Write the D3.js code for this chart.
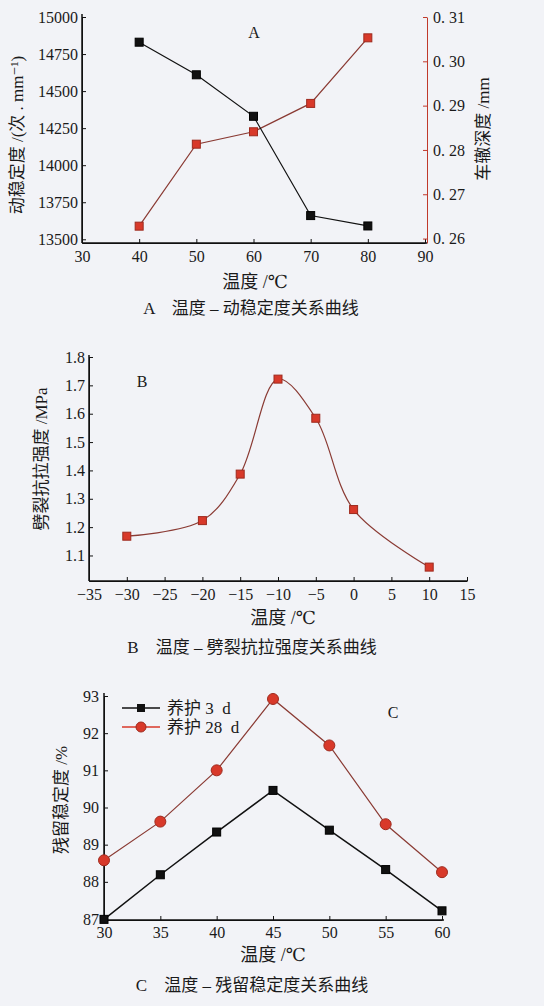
<!DOCTYPE html>
<html>
<head>
<meta charset="utf-8">
<script src="https://cdn.jsdelivr.net/npm/d3@7"></script>
<style>
  body { margin: 0; background: #f2f3f7; }
  svg { display: block; }
  .axis path, .axis line { stroke: #111; }
</style>
</head>
<body>
<svg width="544" height="1006"></svg>
<script>
// chart A: temperature vs dynamic stability / rut depth
var tempA = [40, 50, 60, 70, 80];
var stability = [14830, 14610, 14330, 13660, 13590];
var rutDepth = [0.2628, 0.2813, 0.2841, 0.2905, 0.3053];
var ticksAx = [30, 40, 50, 60, 70, 80, 90];
var ticksAl = [13500, 13750, 14000, 14250, 14500, 14750, 15000];
var ticksAr = [0.26, 0.27, 0.28, 0.29, 0.30, 0.31];

// chart B: temperature vs splitting tensile strength
var tempB = [-30, -20, -15, -10, -5, 0, 10];
var strength = [1.168, 1.223, 1.387, 1.722, 1.584, 1.262, 1.059];
var ticksBx = [-35, -30, -25, -20, -15, -10, -5, 0, 5, 10, 15];
var ticksBy = [1.1, 1.2, 1.3, 1.4, 1.5, 1.6, 1.7, 1.8];

// chart C: temperature vs residual stability
var tempC = [30, 35, 40, 45, 50, 55, 60];
var cure3 = [86.99, 88.19, 89.34, 90.46, 89.39, 88.33, 87.22];
var cure28 = [88.58, 89.62, 91.0, 92.92, 91.67, 89.55, 88.26];
var ticksCy = [87, 88, 89, 90, 91, 92, 93];
var seriesNames = ["养护 3  d", "养护 28  d"];

var svg = d3.select("svg");
var serif = "'Liberation Serif', 'DejaVu Serif', 'Noto Sans CJK SC', serif";
var red = "#d8392a", redDark = "#9e2a1e", redLine = "#8a3a33";

function fmtSpace(d) { return d3.format(".2f")(d).replace(".", ". "); }

function styleAxis(g) {
  g.attr("font-family", serif).attr("font-size", 16);
  g.selectAll("text").attr("fill", "#1a1a1a");
}

function label(x, y, txt, size, rot) {
  var t = svg.append("text")
    .attr("font-family", serif)
    .attr("font-size", size + "px")
    .attr("fill", "#1a1a1a")
    .attr("text-anchor", "middle")
    .text(txt);
  if (rot) t.attr("transform", "translate(" + x + "," + y + ") rotate(-90)");
  else t.attr("x", x).attr("y", y);
  return t;
}

function squares(g, data, color, stroke, size) {
  g.selectAll(null).data(data).enter().append("rect")
    .attr("x", d => d[0] - size / 2)
    .attr("y", d => d[1] - size / 2)
    .attr("width", size).attr("height", size)
    .attr("fill", color).attr("stroke", stroke).attr("stroke-width", 1);
}

// ---------- A ----------
var xA = d3.scaleLinear().domain([30, 90]).range([82, 425]);
var yAl = d3.scaleLinear().domain([13475, 15000]).range([243, 17]);
var yAr = d3.scaleLinear().domain([0.259, 0.31]).range([243, 17]);

svg.append("g").attr("class", "axis").attr("transform", "translate(0,243)")
  .call(d3.axisBottom(xA).tickValues(ticksAx).tickSizeInner(-4).tickSizeOuter(0).tickPadding(8))
  .call(styleAxis);
svg.append("g").attr("class", "axis").attr("transform", "translate(82,0)")
  .call(d3.axisLeft(yAl).tickValues(ticksAl).tickFormat(d3.format("d")).tickSizeInner(-4).tickSizeOuter(0).tickPadding(4))
  .call(styleAxis);
var rAx = svg.append("g").attr("class", "axis").attr("transform", "translate(427,0)")
  .call(d3.axisRight(yAr).tickValues(ticksAr).tickFormat(fmtSpace).tickSizeInner(-4).tickSizeOuter(0).tickPadding(6))
  .call(styleAxis);
rAx.selectAll("path, line").style("stroke", "#c0392b");
svg.append("line").attr("x1", 82).attr("x2", 82).attr("y1", 14).attr("y2", 243).attr("stroke", "#111").attr("stroke-width", 1.5);
svg.append("line").attr("x1", 82).attr("x2", 427).attr("y1", 243).attr("y2", 243).attr("stroke", "#111").attr("stroke-width", 1.5);

var ptsAl = tempA.map((t, i) => [xA(t), yAl(stability[i])]);
var ptsAr = tempA.map((t, i) => [xA(t), yAr(rutDepth[i])]);
var gA = svg.append("g");
gA.append("path").attr("d", d3.line()(ptsAr)).attr("fill", "none").attr("stroke", redLine).attr("stroke-width", 1.2);
gA.append("path").attr("d", d3.line()(ptsAl)).attr("fill", "none").attr("stroke", "#111").attr("stroke-width", 1.2);
squares(gA, ptsAr, red, redDark, 8);
squares(gA, ptsAl, "#111", "#000", 8);

label(254, 38, "A", 16);
label(23, 135, "动稳定度 /(次 . mm⁻¹)", 17, true);
label(489, 129, "车辙深度 /mm", 17, true);
label(255, 288, "温度 /℃", 18);
label(251, 314, "A　温度 – 动稳定度关系曲线", 17);

// ---------- B ----------
var xB = d3.scaleLinear().domain([-35, 15]).range([89, 467]);
var yB = d3.scaleLinear().domain([1.01, 1.8]).range([581, 357]);

svg.append("g").attr("class", "axis").attr("transform", "translate(0,581)")
  .call(d3.axisBottom(xB).tickValues(ticksBx).tickFormat(d => d < 0 ? "−" + Math.abs(d) : d)
    .tickSizeInner(-4).tickSizeOuter(0).tickPadding(8))
  .call(styleAxis);
svg.append("g").attr("class", "axis").attr("transform", "translate(89,0)")
  .call(d3.axisLeft(yB).tickValues(ticksBy).tickFormat(d3.format(".1f")).tickSizeInner(-4).tickSizeOuter(0).tickPadding(4))
  .call(styleAxis);
svg.append("line").attr("x1", 89).attr("x2", 89).attr("y1", 355).attr("y2", 581).attr("stroke", "#111").attr("stroke-width", 1.5);
svg.append("line").attr("x1", 89).attr("x2", 467).attr("y1", 581).attr("y2", 581).attr("stroke", "#111").attr("stroke-width", 1.5);

var ptsB = tempB.map((t, i) => [xB(t), yB(strength[i])]);
var gB = svg.append("g");
gB.append("path").attr("d", d3.line().curve(d3.curveCatmullRom.alpha(0.5))(ptsB))
  .attr("fill", "none").attr("stroke", redLine).attr("stroke-width", 1.2);
squares(gB, ptsB, red, redDark, 8);

label(142, 387, "B", 16);
label(47, 459, "劈裂抗拉强度 /MPa", 17, true);
label(283, 624, "温度 /℃", 18);
label(252, 653, "B　温度 – 劈裂抗拉强度关系曲线", 17);

// ---------- C ----------
var xC = d3.scaleLinear().domain([30, 60]).range([104, 442]);
var yC = d3.scaleLinear().domain([87, 93]).range([919, 696]);

svg.append("g").attr("class", "axis").attr("transform", "translate(0,920)")
  .call(d3.axisBottom(xC).tickValues(tempC).tickSizeInner(-4).tickSizeOuter(0).tickPadding(7))
  .call(styleAxis);
svg.append("g").attr("class", "axis").attr("transform", "translate(104,0)")
  .call(d3.axisLeft(yC).tickValues(ticksCy).tickFormat(d3.format("d")).tickSizeInner(-4).tickSizeOuter(0).tickPadding(5))
  .call(styleAxis);
svg.append("line").attr("x1", 104).attr("x2", 104).attr("y1", 693).attr("y2", 920).attr("stroke", "#111").attr("stroke-width", 1.5);
svg.append("line").attr("x1", 104).attr("x2", 444).attr("y1", 920).attr("y2", 920).attr("stroke", "#111").attr("stroke-width", 1.5);

var pts3 = tempC.map((t, i) => [xC(t), yC(cure3[i])]);
var pts28 = tempC.map((t, i) => [xC(t), yC(cure28[i])]);
var gC = svg.append("g");
gC.append("path").attr("d", d3.line()(pts28)).attr("fill", "none").attr("stroke", redLine).attr("stroke-width", 1.2);
gC.append("path").attr("d", d3.line()(pts3)).attr("fill", "none").attr("stroke", "#111").attr("stroke-width", 1.5);
squares(gC, pts3, "#111", "#000", 8);
gC.selectAll(null).data(pts28).enter().append("circle")
  .attr("cx", d => d[0]).attr("cy", d => d[1]).attr("r", 5.5)
  .attr("fill", red).attr("stroke", redDark).attr("stroke-width", 1);

// legend
var lg = svg.append("g");
seriesNames.forEach(function (name, i) {
  var y = 708 + i * 19;
  lg.append("line").attr("x1", 122).attr("x2", 160).attr("y1", y).attr("y2", y)
    .attr("stroke", i ? red : "#111").attr("stroke-width", 1.5);
  if (i) lg.append("circle").attr("cx", 141).attr("cy", y).attr("r", 5).attr("fill", red).attr("stroke", redDark);
  else lg.append("rect").attr("x", 137).attr("y", y - 4).attr("width", 8).attr("height", 8).attr("fill", "#111");
  lg.append("text").attr("x", 167).attr("y", y + 6).attr("font-family", serif).attr("font-size", "17px")
    .attr("fill", "#1a1a1a").style("white-space", "pre").text(name);
});

label(393, 718, "C", 16);
label(67, 800, "残留稳定度 /%", 17, true);
label(273, 961, "温度 /℃", 18);
label(252, 991, "C　温度 – 残留稳定度关系曲线", 17);
</script>
</body>
</html>
